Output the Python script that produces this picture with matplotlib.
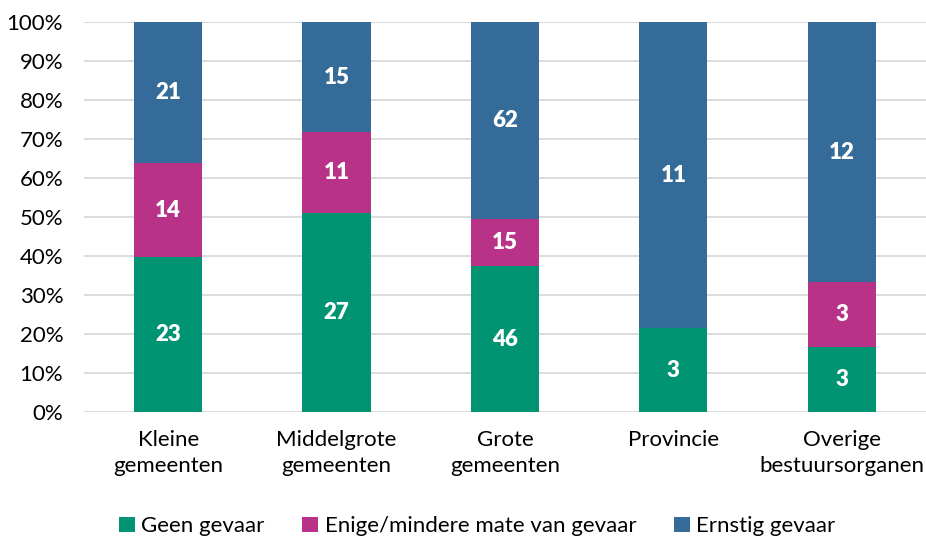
import matplotlib.pyplot as plt
import numpy as np

plt.rcParams['font.family'] = ['Lato', 'DejaVu Sans']

categories = ["Kleine\ngemeenten", "Middelgrote\ngemeenten", "Grote\ngemeenten",
              "Provincie", "Overige\nbestuursorganen"]
series = ["Geen gevaar", "Enige/mindere mate van gevaar", "Ernstig gevaar"]
geen = [23, 27, 46, 3, 3]
enige = [14, 11, 15, 0, 3]
ernstig = [21, 15, 62, 11, 12]
colors = ["#009473", "#B83388", "#346B99"]

counts = np.array([geen, enige, ernstig], dtype=float)
shares = counts / counts.sum(axis=0) * 100

fig = plt.figure(figsize=(9.26, 5.38), dpi=100)
ax = fig.add_axes([0.0907, 0.2342, 0.9093, 0.7249])

x = np.arange(len(categories))
bottom = np.zeros(len(categories))
for i, name in enumerate(series):
    ax.bar(x, shares[i], 0.405, bottom=bottom, color=colors[i], label=name, zorder=3)
    for j in range(len(categories)):
        if counts[i, j] > 0:
            ax.text(x[j], bottom[j] + shares[i, j] / 2, f"{int(counts[i, j])}",
                    ha="center", va="center", color="white", fontsize=16,
                    fontweight="heavy", zorder=4)
    bottom += shares[i]

ax.set_xlim(-0.5, len(categories) - 0.5)
ax.set_ylim(0, 100)
ax.set_yticks(np.arange(0, 101, 10))
ax.set_yticklabels([f"{v}%" for v in range(0, 101, 10)])
ax.set_xticks(x)
ax.set_xticklabels(categories, linespacing=1.4)
ax.tick_params(axis="both", length=0, labelsize=16, colors="#000000")
ax.tick_params(axis="x", pad=13)
ax.tick_params(axis="y", pad=15)
ax.grid(axis="y", color="#D9D9D9", linewidth=1.3, zorder=0)
for s in ax.spines.values():
    s.set_visible(False)

ax.legend(loc="lower center", bbox_to_anchor=(0.467, -0.37), ncol=3, frameon=False,
          fontsize=16, handlelength=0.7, handleheight=0.7, handletextpad=0.3,
          columnspacing=1.7)

fig.savefig("out.png", dpi=100)
